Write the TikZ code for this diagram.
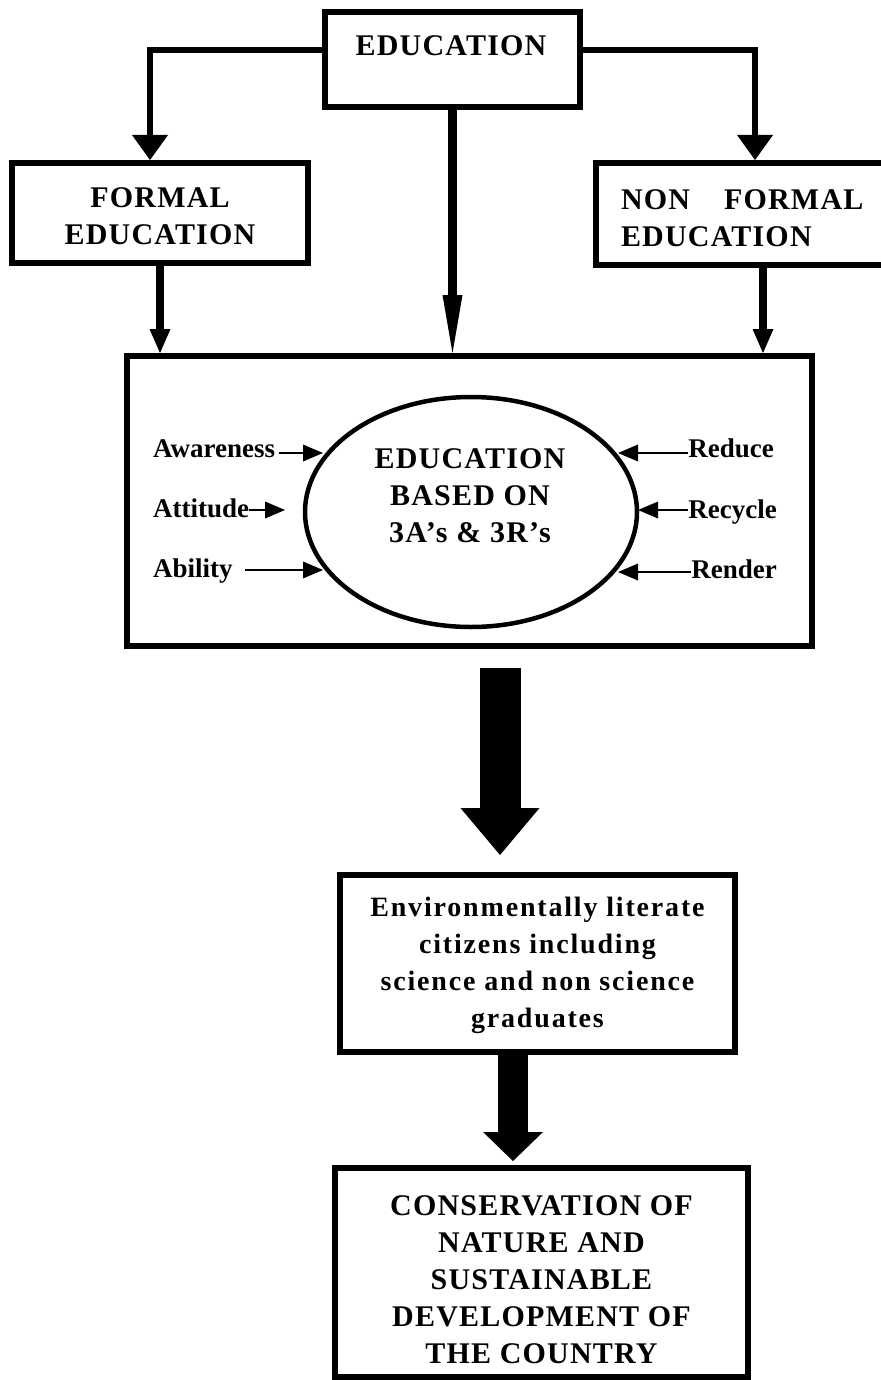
\documentclass[tikz,border=0pt]{standalone}
\usepackage{fontspec}
\setmainfont{Liberation Serif}
\newfontfamily\capsfont{Liberation Serif}[LetterSpace=4]
\newfontfamily\envfont{Liberation Serif}[LetterSpace=6.5]
\usetikzlibrary{arrows.meta,shapes.geometric,calc}

\tikzset{
  box/.style={draw, line width=6pt, inner sep=0pt, align=center,
    font=\capsfont\bfseries\fontsize{30pt}{37pt}\selectfont},
  caps/.style={inner sep=0pt, align=center,
    font=\capsfont\bfseries\fontsize{30pt}{37pt}\selectfont},
  envbox/.style={draw, line width=6pt, inner sep=0pt, align=center,
    font=\envfont\bfseries\fontsize{28pt}{37pt}\selectfont},
  lab/.style={inner sep=0pt, font=\bfseries\fontsize{27pt}{30pt}\selectfont},
  conn/.style={line width=6pt, -{Triangle[length=25pt,width=36pt,line width=0pt]}},
  feed/.style={line width=8pt, -{Triangle[length=24pt,width=21pt,line width=0pt]}},
  trunk/.style={line width=9pt, -{Triangle[length=58pt,width=20pt,line width=0pt]}},
  thinarrow/.style={line width=1.5pt, -{Triangle[length=20pt,width=17pt,line width=0pt]}},
}
% invisible strut that lowers a block of text inside its box
\newcommand{\lowerby}[1]{\rule{0pt}{#1}}

\begin{document}
\begin{tikzpicture}[x=1pt,y=-1pt]
\fill[white] (0,0) rectangle (880,1380);
\useasboundingbox (0,0) rectangle (880,1380);

% top level
\node[box, minimum width=255pt, minimum height=95pt] (edu) at (452.5,59.5) {};
\node[caps] (edutxt) at (451,46) {EDUCATION};

% the two branches
\node[box, minimum width=296pt, minimum height=100pt] (formal) at (160,213)
  {\lowerby{27pt}FORMAL\\EDUCATION};
\node[box, minimum width=334pt, minimum height=102pt, text width=284pt, align=left]
  (nonformal) at (763,214) {\lowerby{28pt}NON\hspace{34pt}FORMAL\\EDUCATION};

% central panel
\node[draw, line width=6pt, minimum width=685pt, minimum height=290pt, inner sep=0pt]
  (core) at (469.5,501) {};
\node[draw, ellipse, line width=4.5pt, minimum width=332pt, minimum height=230pt,
  inner sep=0pt] (ell) at (471,512) {};
\node[caps] (elltxt) at (470,496) {EDUCATION\\BASED ON\\3A’s \& 3R’s};

% the 3A's and 3R's
\node[lab, anchor=base west] (aw)  at (153,457) {Awareness};
\node[lab, anchor=base west] (att) at (153,517) {Attitude};
\node[lab, anchor=base west] (abi) at (153,577) {Ability};
\node[lab, anchor=base east] (red) at (774,457) {Reduce};
\node[lab, anchor=base east] (rec) at (777,518) {Recycle};
\node[lab, anchor=base east] (ren) at (777,578) {Render};

\coordinate (awtip)  at (323,453);
\coordinate (atttip) at (285,510);
\coordinate (abitip) at (323,570);
\coordinate (redtip) at (618,453);
\coordinate (rectip) at (638,510);
\coordinate (rentip) at (618,572);

\draw[thinarrow, shorten <=4pt]  (aw.east |- awtip)   -- (awtip);
\draw[thinarrow]                 (att.east |- atttip) -- (atttip);
\draw[thinarrow, shorten <=12pt] (abi.east |- abitip) -- (abitip);
\draw[thinarrow]                 (red.west |- redtip) -- (redtip);
\draw[thinarrow]                 (rec.west |- rectip) -- (rectip);
\draw[thinarrow]                 (ren.west |- rentip) -- (rentip);

% outcomes
\node[envbox, minimum width=395pt, minimum height=177pt] (env) at (537.5,963.5)
  {\lowerby{24pt}Environmentally literate\\citizens including\\science and non science\\graduates};
\node[box, minimum width=413pt, minimum height=209pt] (cons) at (541.5,1272.5)
  {\lowerby{34pt}CONSERVATION OF\\NATURE AND\\SUSTAINABLE\\DEVELOPMENT OF\\THE COUNTRY};

% connectors
\draw[conn] ([yshift=9.5pt]edu.west) -| ([xshift=-10pt]formal.north);
\coordinate (nfin) at ([xshift=-8pt]nonformal.north);
\draw[conn] ([yshift=9.5pt]edu.east) -| (nfin);
\draw[trunk] (edu.south) -- (edu.south |- core.north);
\draw[feed] (formal.south) -- (formal.south |- core.north);
\draw[feed] (nonformal.south) -- (nonformal.south |- core.north);

\coordinate (a1) at ([xshift=30.5pt]core.south);
\draw[line width=41pt, -{Triangle[length=47pt,width=79pt,line width=0pt]},
  shorten <=19pt, shorten >=17pt] (a1) -- (a1 |- env.north);
\coordinate (a2) at ([xshift=-24.5pt]env.south);
\draw[line width=30pt, -{Triangle[length=29pt,width=60pt,line width=0pt]},
  shorten >=4pt] (a2) -- (a2 |- cons.north);
\end{tikzpicture}
\end{document}
